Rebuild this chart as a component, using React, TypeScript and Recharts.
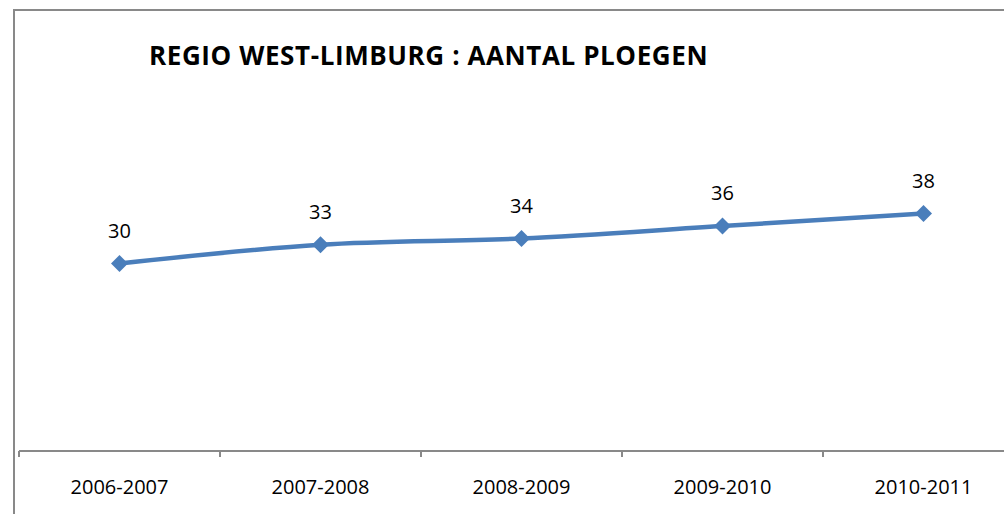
import { LineChart, Line, XAxis, YAxis, LabelList } from "recharts";

const seasons = ["2006-2007", "2007-2008", "2008-2009", "2009-2010", "2010-2011"];
const teams = [30, 33, 34, 36, 38];

const chartData = seasons.map((s, i) => ({ season: s, ploegen: teams[i] }));

const FONT = "'Open Sans', 'Noto Sans', sans-serif";
const BLUE = "#4A7EBB";
const GREY = "#898989";

const PLOT_LEFT = 19;
const PLOT_W = 1005;
const HALF_BAND = PLOT_W / seasons.length / 2;

function Diamond(props: any) {
  const { cx, cy } = props;
  if (cx == null || cy == null) return null;
  const r = 8.5;
  return (
    <polygon
      points={`${cx},${cy - r} ${cx + r},${cy} ${cx},${cy + r} ${cx - r},${cy}`}
      fill={BLUE}
    />
  );
}

// category label in the middle, tick mark on the band's left edge
function SeasonTick(props: any) {
  const { x, y, payload } = props;
  const edge = x - HALF_BAND;
  return (
    <g>
      <line x1={edge} y1={y} x2={edge} y2={y + 6} stroke={GREY} strokeWidth={2} />
      <text
        x={x}
        y={y + 43}
        textAnchor="middle"
        fontSize={20}
        fill="#000"
        fontFamily={FONT}
      >
        {payload.value}
      </text>
    </g>
  );
}

export default function App() {
  return (
    <div
      style={{
        position: "absolute",
        left: 0,
        top: 0,
        width: 1004,
        height: 514,
        overflow: "hidden",
        background: "#fff",
        fontFamily: FONT,
      }}
    >
      <div
        style={{
          position: "absolute",
          left: 13,
          top: 9,
          width: 1100,
          height: 600,
          border: "2px solid #898989",
          boxSizing: "border-box",
        }}
      />
      <div
        style={{
          position: "absolute",
          left: 149,
          top: 37,
          fontSize: 26,
          fontWeight: 700,
          color: "#000",
          whiteSpace: "nowrap",
          letterSpacing: 0.6,
        }}
      >
        REGIO WEST-LIMBURG : AANTAL PLOEGEN
      </div>
      <div style={{ position: "absolute", left: 0, top: 0 }}>
        <LineChart
          width={PLOT_LEFT + PLOT_W + 6}
          height={514}
          data={chartData}
          margin={{ top: 13.5, right: 6, bottom: 23, left: PLOT_LEFT }}
        >
          <XAxis
            dataKey="season"
            height={40}
            padding={{ left: HALF_BAND, right: HALF_BAND }}
            axisLine={{ stroke: GREY, strokeWidth: 2 }}
            tickLine={false}
            tickSize={0}
            tickMargin={0}
            interval={0}
            tick={<SeasonTick />}
          />
          <YAxis hide domain={[0, 70]} />
          <Line
            type="monotone"
            dataKey="ploegen"
            stroke={BLUE}
            strokeWidth={4.5}
            dot={<Diamond />}
            activeDot={false}
            isAnimationActive={false}
          >
            <LabelList
              dataKey="ploegen"
              position="top"
              offset={26}
              style={{ fontSize: 20, fill: "#000", fontFamily: FONT }}
            />
          </Line>
        </LineChart>
      </div>
    </div>
  );
}
